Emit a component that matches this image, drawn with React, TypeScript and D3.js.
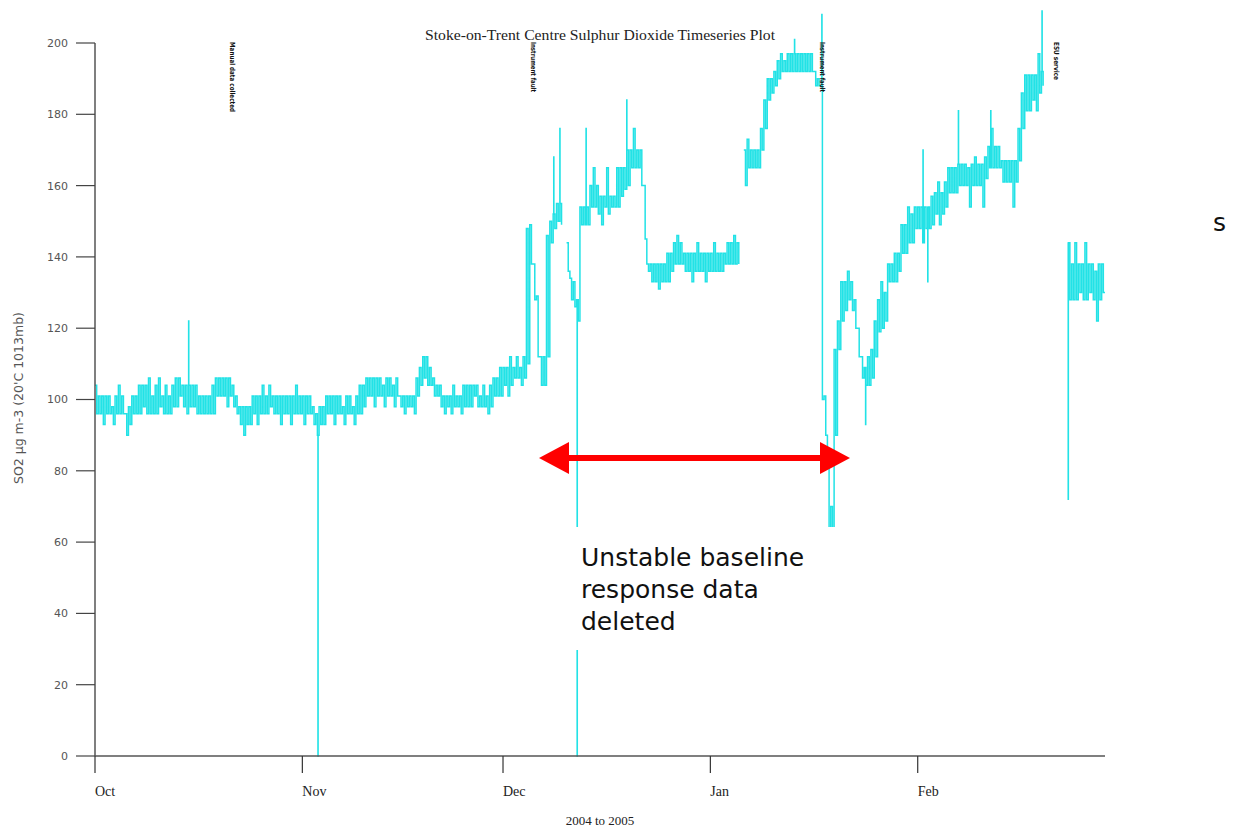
import React from "react";
import * as d3 from "d3";

const TITLE = "Stoke-on-Trent Centre Sulphur Dioxide Timeseries Plot";
const Y_LABEL = "SO2 µg m-3 (20'C 1013mb)";
const X_LABEL = "2004 to 2005";
const DOMAIN_START = Date.UTC(2004, 9, 1);
const DOMAIN_END = Date.UTC(2005, 2, 1);
const MONTH_TICKS = [Date.UTC(2004, 9, 1), Date.UTC(2004, 10, 1), Date.UTC(2004, 11, 1), Date.UTC(2005, 0, 1), Date.UTC(2005, 1, 1)];
const MONTH_LABELS = ["Oct", "Nov", "Dec", "Jan", "Feb"];
const Y_TICKS = [0, 20, 40, 60, 80, 100, 120, 140, 160, 180, 200];

const ANNOTATION_DATES = [Date.UTC(2004, 9, 21, 12), Date.UTC(2004, 11, 5, 14), Date.UTC(2005, 0, 17, 17), Date.UTC(2005, 1, 21, 19)];
const ANNOTATION_LABELS = ["Manual data collected", "Instrument fault", "Instrument fault", "ESU service"];
const ANNOTATION_LENGTHS = [70, 50, 50, 38];

const NOTE_LINES = ["Unstable baseline", "response data", "deleted"];

type Bin = [number, number] | null; // [low, high] of each half-day period, µg m-3

const OCT: Bin[] = [
  [96, 104], [96, 101], [93, 101], [96, 101], [96, 101], [93, 98], [96, 101], [96, 104],
  [96, 101], [90, 96], [93, 98], [96, 101], [96, 101], [96, 104], [98, 104], [96, 104],
  [96, 106], [96, 101], [96, 104], [98, 106], [96, 101], [96, 104], [96, 101], [98, 104],
  [98, 106], [101, 106], [98, 104], [96, 104], [98, 104], [98, 104], [96, 104], [96, 101],
  [96, 101], [96, 101], [96, 101], [96, 104], [101, 106], [101, 106], [101, 106], [98, 106],
  [101, 106], [98, 104], [96, 101], [93, 98], [90, 98], [93, 98], [93, 98], [96, 101],
  [93, 101], [96, 101], [96, 104], [96, 101], [98, 104], [96, 101], [96, 101], [93, 101],
  [96, 101], [96, 101], [93, 101], [96, 101], [96, 104], [96, 101],
];

const NOV: Bin[] = [
  [93, 101], [96, 101], [96, 101], [93, 98], [90, 96], [93, 98], [93, 98], [96, 101],
  [96, 101], [93, 101], [96, 101], [96, 101], [93, 98], [96, 101], [96, 101], [93, 98],
  [96, 101], [96, 104], [98, 104], [101, 106], [101, 106], [98, 106], [101, 106], [101, 106],
  [98, 104], [101, 106], [101, 106], [98, 104], [101, 106], [98, 101], [96, 101], [98, 101],
  [98, 101], [96, 101], [101, 106], [104, 109], [106, 112], [104, 112], [104, 109], [101, 106],
  [101, 104], [98, 104], [96, 101], [98, 101], [96, 101], [98, 104], [98, 101], [96, 101],
  [98, 104], [98, 104], [98, 104], [101, 104], [98, 104], [98, 101], [98, 104], [96, 101],
  [98, 104], [101, 106], [101, 106], [101, 109],
];

const DEC: Bin[] = [
  [104, 109], [101, 109], [104, 112], [106, 109], [106, 112], [104, 109], [106, 112], [110, 148],
  [138, 149], [128, 138], [112, 129], [104, 112], [104, 112], [112, 146], [144, 150], [148, 152],
  [150, 155], [149, 155], null, [136, 144], [128, 134], [126, 133], [122, 128], [149, 154],
  [149, 154], [149, 154], [154, 160], [154, 165], [152, 160], [149, 157], [154, 157], [152, 165],
  [154, 157], [154, 157], [154, 165], [157, 165], [159, 165], [160, 170], [165, 170], [165, 176],
  [165, 170], [160, 170], [145, 160], [136, 138], [133, 138], [133, 138], [131, 138], [133, 138],
  [133, 138], [133, 141], [136, 141], [138, 144], [138, 146], [138, 144], [136, 141], [136, 141],
  [133, 141], [136, 141], [136, 144], [136, 141], [133, 141], [136, 141],
];

const JAN: Bin[] = [
  [136, 141], [136, 144], [136, 141], [136, 141], [138, 141], [138, 144], [138, 144], [138, 146],
  [138, 144], null, [160, 170], [165, 173], [165, 170], [165, 170], [165, 170], [170, 176],
  [176, 184], [184, 190], [186, 190], [188, 192], [190, 195], [192, 197], [192, 195], [192, 197],
  [192, 197], [192, 197], [192, 197], [192, 197], [192, 197], [192, 197], [192, 197], [188, 192],
  [188, 190], [100, 188], [90, 101], [60, 81], [55, 70], [90, 114], [114, 122], [122, 133],
  [125, 133], [128, 136], [125, 133], [120, 128], [112, 120], [106, 112], [104, 109], [104, 112],
  [106, 114], [112, 122], [119, 128], [120, 133], [122, 130], [133, 138], [133, 138], [133, 141],
  [136, 141], [141, 149], [141, 149], [144, 154], [144, 152], [148, 154],
];

const FEB: Bin[] = [
  [148, 154], [144, 154], [148, 154], [148, 154], [149, 157], [152, 158], [149, 161], [152, 158],
  [154, 161], [158, 165], [158, 165], [158, 165], [160, 166], [160, 166], [160, 166], [154, 165],
  [160, 166], [160, 168], [160, 166], [154, 166], [162, 168], [165, 171], [165, 176], [165, 171],
  [165, 171], [161, 167], [161, 167], [161, 167], [154, 167], [161, 167], [167, 176], [176, 186],
  [181, 191], [181, 191], [184, 191], [181, 191], [186, 197], [188, 192], null, null,
  null, null, null, null, null, [128, 144], [128, 138], [128, 144], [130, 138], [128, 138],
  [128, 144], [130, 138], [128, 138], [122, 136], [128, 138], [130, 138],
];

// brief single excursions (spikes / drop-outs)
const SPIKE_TIMES = [
  Date.UTC(2004, 9, 15, 0), Date.UTC(2004, 10, 3, 8), Date.UTC(2004, 11, 8, 14), Date.UTC(2004, 11, 9, 12),
  Date.UTC(2004, 11, 12, 2), Date.UTC(2004, 11, 13, 10), Date.UTC(2004, 11, 19, 12), Date.UTC(2005, 0, 13, 14),
  Date.UTC(2005, 0, 17, 16), Date.UTC(2005, 0, 24, 5), Date.UTC(2005, 1, 1, 19), Date.UTC(2005, 1, 2, 12),
  Date.UTC(2005, 1, 7, 2), Date.UTC(2005, 1, 11, 22), Date.UTC(2005, 1, 19, 14), Date.UTC(2005, 1, 23, 12),
];
const SPIKE_VALUES = [122, 0, 168, 176, 0, 176, 184, 201, 208, 93, 170, 133, 181, 181, 209, 72];

const HALF_DAY = 12 * 3600 * 1000;
const HALF_HOUR = 1800 * 1000;

type Pt = { t: number; v: number | null };

const W = 1235;
const H = 829;
const X0 = 95;
const X1 = 1105;
const Y_TOP = 43;
const Y_BOT = 756;

export default function App() {
  const x = d3.scaleUtc().domain([DOMAIN_START, DOMAIN_END]).range([X0, X1]);
  const y = d3.scaleLinear().domain([0, 200]).range([Y_BOT, Y_TOP]);

  const bins: Bin[] = [...OCT, ...NOV, ...DEC, ...JAN, ...FEB];
  const base: Pt[] = [];
  bins.forEach((b, i) => {
    const t0 = DOMAIN_START + i * HALF_DAY;
    base.push({ t: t0, v: b ? b[1] : null });
    base.push({ t: t0 + HALF_DAY / 2, v: b ? b[0] : null });
  });
  const last = bins[bins.length - 1];
  base.push({ t: DOMAIN_START + bins.length * HALF_DAY, v: last ? last[0] : null });

  const spikes = SPIKE_TIMES.map((t, i) => ({ t, v: SPIKE_VALUES[i] })).sort((a, b) => a.t - b.t);
  const pts: Pt[] = [];
  let si = 0;
  for (let k = 0; k < base.length; k++) {
    pts.push(base[k]);
    const nextT = k + 1 < base.length ? base[k + 1].t : Infinity;
    while (si < spikes.length && spikes[si].t >= base[k].t && spikes[si].t < nextT) {
      pts.push({ t: spikes[si].t, v: spikes[si].v });
      pts.push({ t: spikes[si].t + HALF_HOUR, v: base[k].v });
      si++;
    }
  }

  const line = d3
    .line<Pt>()
    .defined((d) => d.v !== null)
    .x((d) => x(d.t))
    .y((d) => y(d.v as number))
    .curve(d3.curveStepAfter);

  const serif = "'Liberation Serif', 'DejaVu Serif', serif";
  const sans = "'DejaVu Sans', Verdana, sans-serif";

  const arrowY = 458;
  const arrowLeft = 539;
  const arrowRight = 850;
  const headLen = 30;
  const headHalf = 16;
  const shaftHalf = 3;

  return (
    <svg width={W} height={H} style={{ position: "absolute", left: 0, top: 0, background: "#fff" }}>
      <rect x={0} y={0} width={W} height={H} fill="#fff" />
      {/* title */}
      <text x={600} y={40} textAnchor="middle" fontFamily={serif} fontSize={14} fill="#222" textLength={350} lengthAdjust="spacingAndGlyphs">
        {TITLE}
      </text>

      {/* data */}
      <path d={line(pts) || ""} fill="none" stroke="#22E2E6" strokeWidth={1.5} />

      {/* annotations */}
      {ANNOTATION_DATES.map((d, i) => (
        <text
          key={"a" + i}
          transform={`translate(${x(d)},42) rotate(90)`}
          dy="0.35em"
          fontFamily={sans}
          fontWeight="bold"
          fontSize={7}
          fill="#111"
          textLength={ANNOTATION_LENGTHS[i]}
          lengthAdjust="spacingAndGlyphs"
        >
          {ANNOTATION_LABELS[i]}
        </text>
      ))}

      {/* y axis */}
      <line x1={X0} x2={X0} y1={Y_TOP} y2={Y_BOT} stroke="#555" strokeWidth={1.5} />
      {Y_TICKS.map((v) => (
        <g key={"y" + v}>
          <line x1={X0 - 19} x2={X0} y1={y(v)} y2={y(v)} stroke="#444" strokeWidth={1.2} />
          <text x={68} y={y(v)} dy="0.36em" textAnchor="end" fontFamily={sans} fontSize={11} fill="#555">
            {v}
          </text>
        </g>
      ))}
      <text transform={`translate(19,398) rotate(-90)`} textAnchor="middle" dy="0.35em" fontFamily={sans} fontSize={12.5} fill="#555">
        {Y_LABEL}
      </text>

      {/* x axis */}
      <line x1={X0} x2={X1} y1={Y_BOT} y2={Y_BOT} stroke="#555" strokeWidth={1.5} />
      {MONTH_TICKS.map((t, i) => (
        <g key={"x" + i}>
          <line x1={x(t)} x2={x(t)} y1={Y_BOT} y2={Y_BOT + 17} stroke="#333" strokeWidth={1.2} />
          <text x={x(t)} y={796} fontFamily={serif} fontSize={14} fill="#222">
            {MONTH_LABELS[i]}
          </text>
        </g>
      ))}
      <text x={600} y={825} textAnchor="middle" fontFamily={serif} fontSize={13} fill="#222">
        {X_LABEL}
      </text>

      {/* red double arrow */}
      <path
        d={`M${arrowLeft},${arrowY} L${arrowLeft + headLen},${arrowY - headHalf} L${arrowLeft + headLen},${arrowY - shaftHalf} L${arrowRight - headLen},${arrowY - shaftHalf} L${arrowRight - headLen},${arrowY - headHalf} L${arrowRight},${arrowY} L${arrowRight - headLen},${arrowY + headHalf} L${arrowRight - headLen},${arrowY + shaftHalf} L${arrowLeft + headLen},${arrowY + shaftHalf} L${arrowLeft + headLen},${arrowY + headHalf} Z`}
        fill="#FF0000"
      />

      {/* note box */}
      <rect x={569} y={527} width={272} height={123} fill="#fff" />
      {NOTE_LINES.map((s, i) => (
        <text key={"n" + i} x={581} y={566 + i * 32} fontFamily={sans} fontSize={25} fill="#111">
          {s}
        </text>
      ))}
      <text x={1213} y={231} fontFamily={sans} fontSize={25} fill="#111">
        s
      </text>
    </svg>
  );
}
